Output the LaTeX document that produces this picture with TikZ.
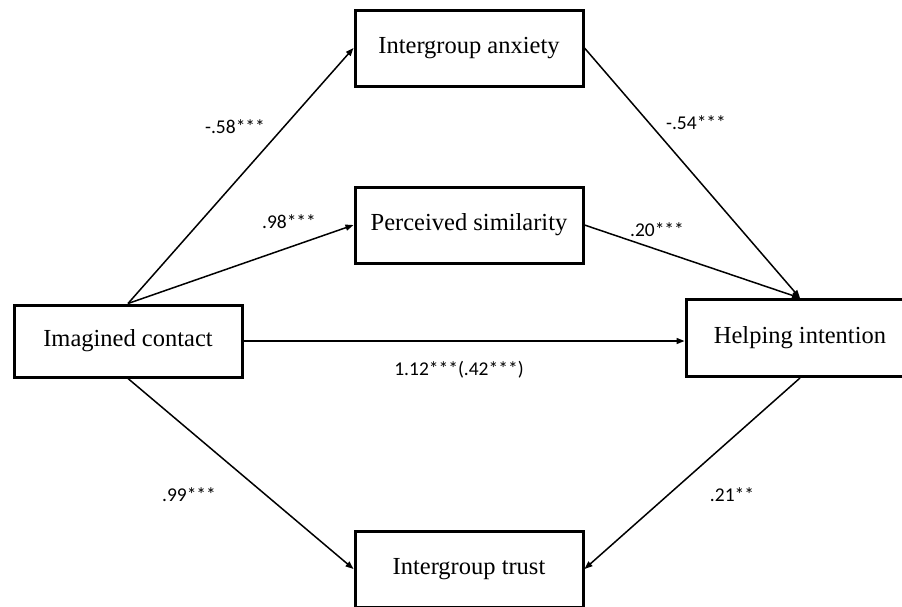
\documentclass[tikz,border=0pt]{standalone}
\usepackage{fontspec}
\setmainfont{Liberation Serif}
\newfontfamily\coeffont{Carlito}
\usetikzlibrary{arrows.meta}

\tikzset{
  varbox/.style={draw=black, line width=3pt, fill=white, minimum width=228pt,
    minimum height=76pt, inner sep=0pt, font=\fontsize{24.5}{28}\selectfont},
  path/.style={line width=1.5pt, -{Triangle[length=8pt,width=6pt]}},
  coef/.style={font=\coeffont\fontsize{19.5}{23}\selectfont, inner sep=0pt}
}

\begin{document}
\begin{tikzpicture}[x=1pt,y=-1pt]
  \clip (0,0) rectangle (902,606);
  \fill[white] (0,0) rectangle (902,606);

  % variables
  \node[varbox] (anx)   at (469,48)  {Intergroup anxiety};
  \node[varbox] (sim)   at (469,225) {Perceived similarity};
  \node[varbox, minimum height=72pt] (con) at (128,341) {Imagined contact};
  \node[varbox, minimum height=77pt] (help) at (800,338) {Helping intention};
  \node[varbox] (trust) at (469,569) {Intergroup trust};

  % paths
  \draw[path] (con.north) -- (anx.west);
  \draw[path] (con.north) -- (sim.west);
  \draw[path] (con.east) -- (con.east -| help.west);
  \draw[path] (anx.east) -- (help.north);
  \draw[path] (sim.east) -- (help.north);
  \draw[path] (con.south) -- (trust.west);
  \draw[path] (help.south) -- (trust.east);

  % coefficients
  \node[coef] (c1) at (235,127) {-.58***};
  \node[coef] (c2) at (289,222) {.98***};
  \node[coef] (c3) at (696,123) {-.54***};
  \node[coef] (c4) at (657,230) {.20***};
  \node[coef] (c5) at (459,370) {1.12***(.42***)};
  \node[coef] (c6) at (189,495) {.99***};
  \node[coef] (c7) at (732,495) {.21**};
\end{tikzpicture}
\end{document}
